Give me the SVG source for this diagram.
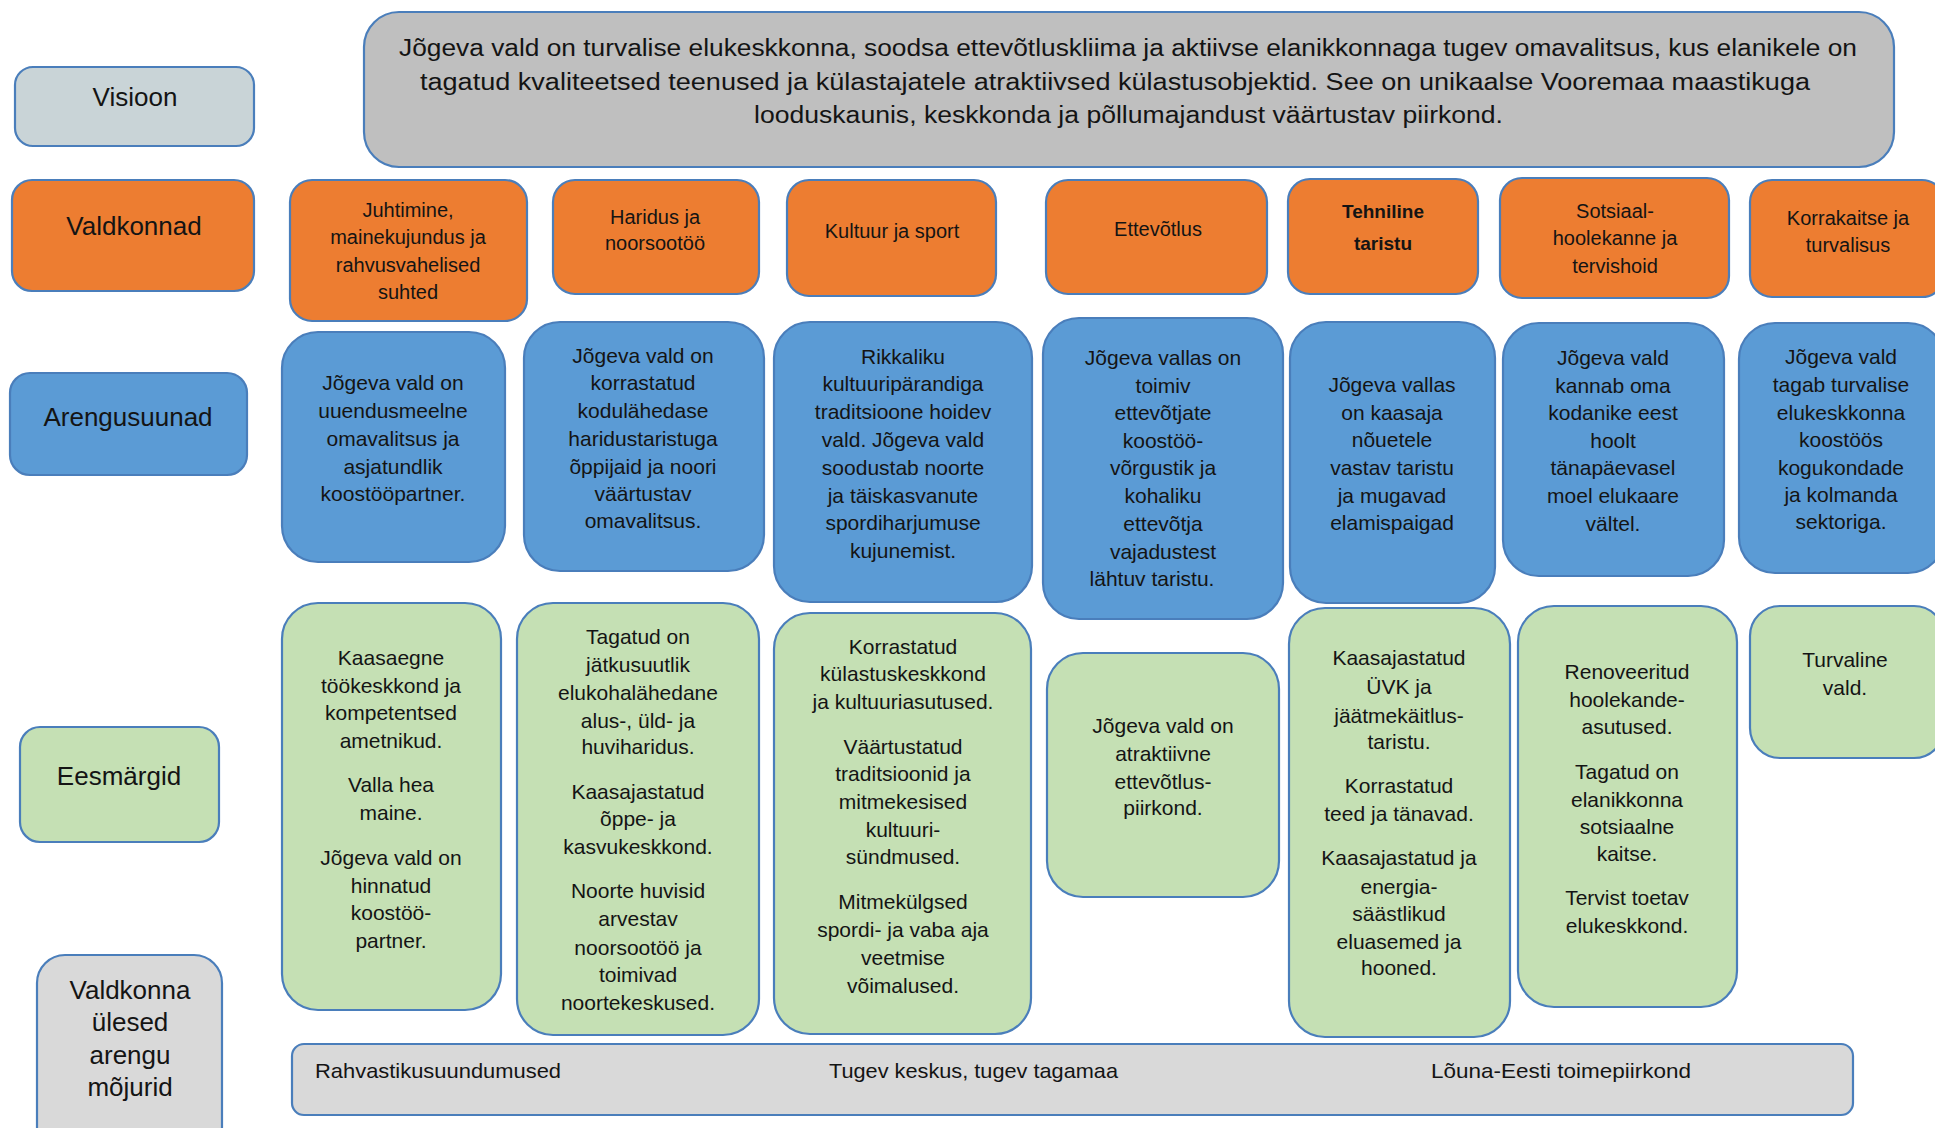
<svg xmlns="http://www.w3.org/2000/svg" width="1935" height="1128" viewBox="0 0 1935 1128">
<style>
.box{stroke:#4a7ebb;stroke-width:2.2}
.o{fill:#ed7d31}
.b{fill:#5b9bd5}
.g{fill:#c5e0b4}
.gr{fill:#d9d9d9}
.v{fill:#bfbfbf}
.vl{fill:#c9d4d7}
text{font-family:"Liberation Sans",Arial,sans-serif;fill:#141414;text-anchor:middle}
.t{font-size:21px}
.to{font-size:20px}
.tl{font-size:26px}
.tv{font-size:23px;text-anchor:start}
.tb{font-size:21px;text-anchor:start}
.bold{font-weight:bold;font-size:19px}
</style>

<g id="label-visioon"><rect class="box vl" x="15" y="67" width="239" height="79" rx="18"/><text class="tl" x="135" y="106">Visioon</text></g>
<g id="label-valdkonnad"><rect class="box o" x="12" y="180" width="242" height="111" rx="20"/><text class="tl" x="134" y="235">Valdkonnad</text></g>
<g id="label-arengusuunad"><rect class="box b" x="10" y="373" width="237" height="102" rx="20"/><text class="tl" x="128" y="426">Arengusuunad</text></g>
<g id="label-eesmargid"><rect class="box g" x="20" y="727" width="199" height="115" rx="20"/><text class="tl" x="119" y="785">Eesmärgid</text></g>
<g id="label-mojurid"><rect class="box gr" x="37" y="955" width="185" height="200" rx="28"/><text class="tl"><tspan x="130" y="999">Valdkonna</tspan><tspan x="130" y="1031">ülesed</tspan><tspan x="130" y="1064">arengu</tspan><tspan x="130" y="1096">mõjurid</tspan></text></g>

<g id="vision"><rect class="box v" x="364" y="12" width="1530" height="155" rx="35"/>
<text class="tv" x="399" y="56" textLength="1458" lengthAdjust="spacingAndGlyphs">Jõgeva vald on turvalise elukeskkonna, soodsa ettevõtluskliima ja aktiivse elanikkonnaga tugev omavalitsus, kus elanikele on</text>
<text class="tv" x="420" y="90" textLength="1390" lengthAdjust="spacingAndGlyphs">tagatud kvaliteetsed teenused ja külastajatele atraktiivsed külastusobjektid. See on unikaalse Vooremaa maastikuga</text>
<text class="tv" x="754" y="123" textLength="749" lengthAdjust="spacingAndGlyphs">looduskaunis, keskkonda ja põllumajandust väärtustav piirkond.</text>
</g>

<g id="valdkond-1"><rect class="box o" x="290" y="180" width="237" height="141" rx="22"/><text class="to"><tspan x="408" y="217">Juhtimine,</tspan><tspan x="408" y="244">mainekujundus ja</tspan><tspan x="408" y="272">rahvusvahelised</tspan><tspan x="408" y="299">suhted</tspan></text></g>
<g id="valdkond-2"><rect class="box o" x="553" y="180" width="206" height="114" rx="22"/><text class="to"><tspan x="655" y="224">Haridus ja</tspan><tspan x="655" y="250">noorsootöö</tspan></text></g>
<g id="valdkond-3"><rect class="box o" x="787" y="180" width="209" height="116" rx="22"/><text class="to" x="892" y="238">Kultuur ja sport</text></g>
<g id="valdkond-4"><rect class="box o" x="1046" y="180" width="221" height="114" rx="22"/><text class="to" x="1158" y="236">Ettevõtlus</text></g>
<g id="valdkond-5"><rect class="box o" x="1288" y="179" width="190" height="115" rx="22"/><text class="bold"><tspan x="1383" y="218">Tehniline</tspan><tspan x="1383" y="250">taristu</tspan></text></g>
<g id="valdkond-6"><rect class="box o" x="1500" y="178" width="229" height="120" rx="22"/><text class="to"><tspan x="1615" y="218">Sotsiaal-</tspan><tspan x="1615" y="245">hoolekanne ja</tspan><tspan x="1615" y="273">tervishoid</tspan></text></g>
<g id="valdkond-7"><rect class="box o" x="1750" y="180" width="194" height="117" rx="22"/><text class="to"><tspan x="1848" y="225">Korrakaitse ja</tspan><tspan x="1848" y="252">turvalisus</tspan></text></g>

<g id="suund-1"><rect class="box b" x="282" y="332" width="223" height="230" rx="36"/><text class="t"><tspan x="393" y="390">Jõgeva vald on</tspan><tspan x="393" y="418">uuendusmeelne</tspan><tspan x="393" y="446">omavalitsus ja</tspan><tspan x="393" y="474">asjatundlik</tspan><tspan x="393" y="501">koostööpartner.</tspan></text></g>
<g id="suund-2"><rect class="box b" x="524" y="322" width="240" height="249" rx="36"/><text class="t"><tspan x="643" y="363">Jõgeva vald on</tspan><tspan x="643" y="390">korrastatud</tspan><tspan x="643" y="418">kodulähedase</tspan><tspan x="643" y="446">haridustaristuga</tspan><tspan x="643" y="474">õppijaid ja noori</tspan><tspan x="643" y="501">väärtustav</tspan><tspan x="643" y="528">omavalitsus.</tspan></text></g>
<g id="suund-3"><rect class="box b" x="774" y="322" width="258" height="280" rx="36"/><text class="t"><tspan x="903" y="364">Rikkaliku</tspan><tspan x="903" y="391">kultuuripärandiga</tspan><tspan x="903" y="419">traditsioone hoidev</tspan><tspan x="903" y="447">vald. Jõgeva vald</tspan><tspan x="903" y="475">soodustab noorte</tspan><tspan x="903" y="503">ja täiskasvanute</tspan><tspan x="903" y="530">spordiharjumuse</tspan><tspan x="903" y="558">kujunemist.</tspan></text></g>
<g id="suund-4"><rect class="box b" x="1043" y="318" width="240" height="301" rx="36"/><text class="t"><tspan x="1163" y="365">Jõgeva vallas on</tspan><tspan x="1163" y="393">toimiv</tspan><tspan x="1163" y="420">ettevõtjate</tspan><tspan x="1163" y="448">koostöö-</tspan><tspan x="1163" y="475">võrgustik ja</tspan><tspan x="1163" y="503">kohaliku</tspan><tspan x="1163" y="531">ettevõtja</tspan><tspan x="1163" y="559">vajadustest</tspan><tspan x="1152" y="586">lähtuv taristu.</tspan></text></g>
<g id="suund-5"><rect class="box b" x="1290" y="322" width="205" height="281" rx="36"/><text class="t"><tspan x="1392" y="392">Jõgeva vallas</tspan><tspan x="1392" y="420">on kaasaja</tspan><tspan x="1392" y="447">nõuetele</tspan><tspan x="1392" y="475">vastav taristu</tspan><tspan x="1392" y="503">ja mugavad</tspan><tspan x="1392" y="530">elamispaigad</tspan></text></g>
<g id="suund-6"><rect class="box b" x="1503" y="323" width="221" height="253" rx="36"/><text class="t"><tspan x="1613" y="365">Jõgeva vald</tspan><tspan x="1613" y="393">kannab oma</tspan><tspan x="1613" y="420">kodanike eest</tspan><tspan x="1613" y="448">hoolt</tspan><tspan x="1613" y="475">tänapäevasel</tspan><tspan x="1613" y="503">moel elukaare</tspan><tspan x="1613" y="531">vältel.</tspan></text></g>
<g id="suund-7"><rect class="box b" x="1739" y="323" width="205" height="250" rx="36"/><text class="t"><tspan x="1841" y="364">Jõgeva vald</tspan><tspan x="1841" y="392">tagab turvalise</tspan><tspan x="1841" y="420">elukeskkonna</tspan><tspan x="1841" y="447">koostöös</tspan><tspan x="1841" y="475">kogukondade</tspan><tspan x="1841" y="502">ja kolmanda</tspan><tspan x="1841" y="529">sektoriga.</tspan></text></g>

<g id="eesmark-1"><rect class="box g" x="282" y="603" width="219" height="407" rx="36"/><text class="t"><tspan x="391" y="665">Kaasaegne</tspan><tspan x="391" y="693">töökeskkond ja</tspan><tspan x="391" y="720">kompetentsed</tspan><tspan x="391" y="748">ametnikud.</tspan><tspan x="391" y="792">Valla hea</tspan><tspan x="391" y="820">maine.</tspan><tspan x="391" y="865">Jõgeva vald on</tspan><tspan x="391" y="893">hinnatud</tspan><tspan x="391" y="920">koostöö-</tspan><tspan x="391" y="948">partner.</tspan></text></g>
<g id="eesmark-2"><rect class="box g" x="517" y="603" width="242" height="432" rx="36"/><text class="t"><tspan x="638" y="644">Tagatud on</tspan><tspan x="638" y="672">jätkusuutlik</tspan><tspan x="638" y="700">elukohalähedane</tspan><tspan x="638" y="728">alus-, üld-  ja</tspan><tspan x="638" y="754">huviharidus.</tspan><tspan x="638" y="799">Kaasajastatud</tspan><tspan x="638" y="826">õppe- ja</tspan><tspan x="638" y="854">kasvukeskkond.</tspan><tspan x="638" y="898">Noorte huvisid</tspan><tspan x="638" y="926">arvestav</tspan><tspan x="638" y="955">noorsootöö ja</tspan><tspan x="638" y="982">toimivad</tspan><tspan x="638" y="1010">noortekeskused.</tspan></text></g>
<g id="eesmark-3"><rect class="box g" x="774" y="613" width="257" height="421" rx="36"/><text class="t"><tspan x="903" y="654">Korrastatud</tspan><tspan x="903" y="681">külastuskeskkond</tspan><tspan x="903" y="709">ja kultuuriasutused.</tspan><tspan x="903" y="754">Väärtustatud</tspan><tspan x="903" y="781">traditsioonid ja</tspan><tspan x="903" y="809">mitmekesised</tspan><tspan x="903" y="837">kultuuri-</tspan><tspan x="903" y="864">sündmused.</tspan><tspan x="903" y="909">Mitmekülgsed</tspan><tspan x="903" y="937">spordi- ja vaba aja</tspan><tspan x="903" y="965">veetmise</tspan><tspan x="903" y="993">võimalused.</tspan></text></g>
<g id="eesmark-4"><rect class="box g" x="1047" y="653" width="232" height="244" rx="36"/><text class="t"><tspan x="1163" y="733">Jõgeva vald on</tspan><tspan x="1163" y="761">atraktiivne</tspan><tspan x="1163" y="789">ettevõtlus-</tspan><tspan x="1163" y="815">piirkond.</tspan></text></g>
<g id="eesmark-5"><rect class="box g" x="1289" y="608" width="221" height="429" rx="36"/><text class="t"><tspan x="1399" y="665">Kaasajastatud</tspan><tspan x="1399" y="694">ÜVK ja</tspan><tspan x="1399" y="723">jäätmekäitlus-</tspan><tspan x="1399" y="749">taristu.</tspan><tspan x="1399" y="793">Korrastatud</tspan><tspan x="1399" y="821">teed ja tänavad.</tspan><tspan x="1399" y="865">Kaasajastatud ja</tspan><tspan x="1399" y="894">energia-</tspan><tspan x="1399" y="921">säästlikud</tspan><tspan x="1399" y="949">eluasemed ja</tspan><tspan x="1399" y="975">hooned.</tspan></text></g>
<g id="eesmark-6"><rect class="box g" x="1518" y="606" width="219" height="401" rx="36"/><text class="t"><tspan x="1627" y="679">Renoveeritud</tspan><tspan x="1627" y="707">hoolekande-</tspan><tspan x="1627" y="734">asutused.</tspan><tspan x="1627" y="779">Tagatud on</tspan><tspan x="1627" y="807">elanikkonna</tspan><tspan x="1627" y="834">sotsiaalne</tspan><tspan x="1627" y="861">kaitse.</tspan><tspan x="1627" y="905">Tervist toetav</tspan><tspan x="1627" y="933">elukeskkond.</tspan></text></g>
<g id="eesmark-7"><rect class="box g" x="1750" y="606" width="194" height="152" rx="30"/><text class="t"><tspan x="1845" y="667">Turvaline</tspan><tspan x="1845" y="695">vald.</tspan></text></g>

<g id="mojurid"><rect class="box gr" x="292" y="1044" width="1561" height="71" rx="12"/>
<text class="tb" x="315" y="1078" textLength="246" lengthAdjust="spacingAndGlyphs">Rahvastikusuundumused</text>
<text class="tb" x="829" y="1078" textLength="289" lengthAdjust="spacingAndGlyphs">Tugev keskus, tugev tagamaa</text>
<text class="tb" x="1431" y="1078" textLength="260" lengthAdjust="spacingAndGlyphs">Lõuna-Eesti toimepiirkond</text>
</g>

<g id="connectors"></g>
</svg>
